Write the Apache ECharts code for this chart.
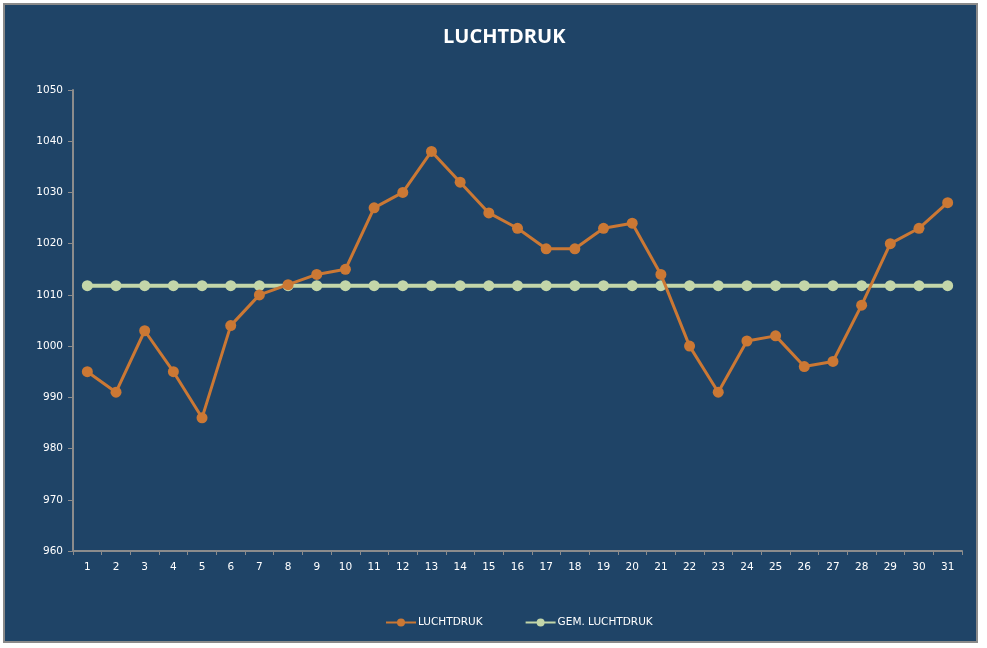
<!DOCTYPE html>
<html><head><meta charset="utf-8">
<script src="https://cdn.jsdelivr.net/npm/echarts@6/dist/echarts.min.js"></script>
<style>
html,body{margin:0;padding:0;background:#fff;}
#frame{position:absolute;left:3px;top:3px;width:971px;height:636px;border:2px solid #8a8a8a;background:#1F4467;}
#c{position:absolute;left:-5px;top:-5px;width:987px;height:648px;}
</style></head>
<body>
<div id="frame"><div id="c"></div></div>
<script>
const days = ['1','2','3','4','5','6','7','8','9','10','11','12','13','14','15','16','17','18','19','20','21','22','23','24','25','26','27','28','29','30','31'];
const luchtdruk = [995,991,1003,995,986,1004,1010,1012,1014,1015,1027,1030,1038,1032,1026,1023,1019,1019,1023,1024,1014,1000,991,1001,1002,996,997,1008,1020,1023,1028];
const gemLuchtdruk = [1011.8,1011.8,1011.8,1011.8,1011.8,1011.8,1011.8,1011.8,1011.8,1011.8,1011.8,1011.8,1011.8,1011.8,1011.8,1011.8,1011.8,1011.8,1011.8,1011.8,1011.8,1011.8,1011.8,1011.8,1011.8,1011.8,1011.8,1011.8,1011.8,1011.8,1011.8];
const yTicks = {min:960, max:1050, interval:10};

const chart = echarts.init(document.getElementById('c'), null, {renderer:'canvas'});
const font = '"DejaVu Sans", sans-serif';
chart.setOption({
  backgroundColor: 'transparent',
  animation: false,
  title: {text:'LUCHTDRUK', left:438, top:22,
    textStyle:{color:'#ffffff', fontSize:20, fontWeight:'bold', fontFamily:'"Open Sans", sans-serif'}},
  legend: {bottom:15, left:380, itemGap:42, itemWidth:30, itemHeight:10,
    textStyle:{color:'#ffffff', fontSize:10.5, fontFamily:font, padding:[0,0,0,-3]},
    data:['LUCHTDRUK','GEM. LUCHTDRUK']},
  grid: {left:73, right:25, top:90, bottom:97},
  xAxis: {type:'category', data:days, boundaryGap:true,
    axisLine:{lineStyle:{color:'#8c8c8c', width:2}},
    axisTick:{show:true, alignWithLabel:false, length:4, lineStyle:{color:'#8c8c8c', width:1}},
    axisLabel:{color:'#ffffff', fontSize:10.5, fontFamily:font, margin:11}},
  yAxis: {type:'value', min:yTicks.min, max:yTicks.max, interval:yTicks.interval,
    axisLine:{show:true, lineStyle:{color:'#8c8c8c', width:2}},
    axisTick:{show:true, length:5, lineStyle:{color:'#8c8c8c'}},
    splitLine:{show:false},
    axisLabel:{color:'#ffffff', fontSize:10.5, fontFamily:font, margin:10, formatter: v => String(v)}},
  series: [
    {name:'LUCHTDRUK', type:'line', data:luchtdruk, symbol:'circle', symbolSize:11,
      lineStyle:{color:'#CB7834', width:3}, itemStyle:{color:'#CB7834'}, z:3},
    {name:'GEM. LUCHTDRUK', type:'line', data:gemLuchtdruk, symbol:'circle', symbolSize:11,
      lineStyle:{color:'#C3D6A9', width:4}, itemStyle:{color:'#C3D6A9'}, z:2}
  ]
});
</script>
</body></html>
